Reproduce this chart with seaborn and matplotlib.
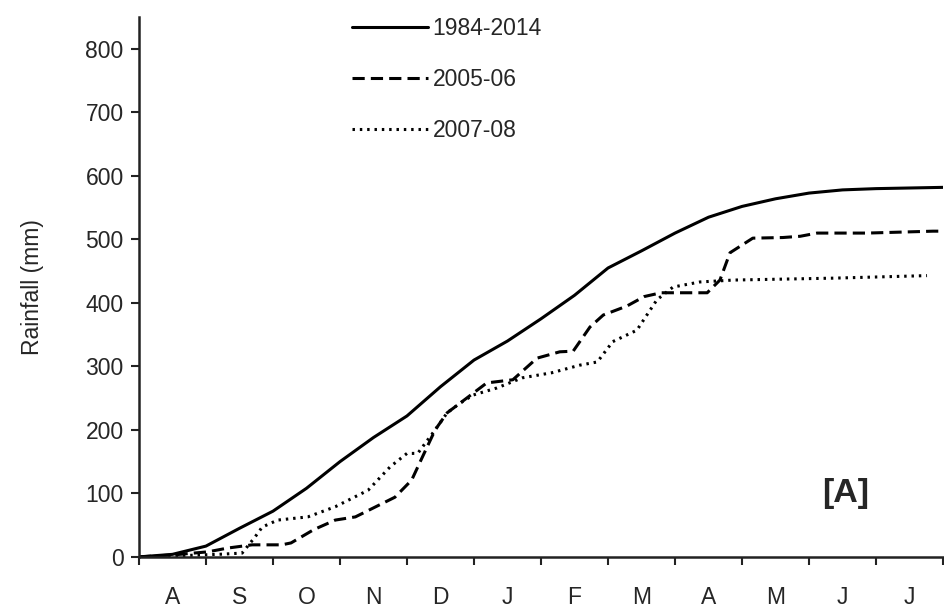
import numpy as np
import pandas as pd
import matplotlib
matplotlib.use("Agg")
import matplotlib.pyplot as plt
import seaborn as sns

# months since 1 August (0 = start of Aug, 12 = end of July)
month_labels = ['A', 'S', 'O', 'N', 'D', 'J', 'F', 'M', 'A', 'M', 'J', 'J']

# 1984-2014 mean cumulative rainfall (mm)
mean_x = [0.0, 0.5, 1.0, 1.5, 2.0, 2.5, 3.0, 3.5, 4.0, 4.5, 5.0, 5.5,
          6.0, 6.5, 7.0, 7.5, 8.0, 8.5, 9.0, 9.5, 10.0, 10.5, 11.0, 11.5, 12.0]
mean_y = [0, 4, 17, 45, 72, 108, 150, 188, 222, 268, 310, 340,
          375, 412, 455, 482, 510, 535, 552, 564, 573, 578, 580, 581, 582]

# 2005-06 season
s0506_x = [0.0, 0.5, 1.03, 1.33, 1.69, 2.13, 2.27, 2.61, 2.93, 3.23, 3.82, 4.07,
           4.22, 4.42, 4.6, 4.79, 4.99, 5.19, 5.58, 5.94, 6.28, 6.48, 6.73, 6.93,
           7.28, 7.54, 7.79, 8.48, 8.67, 8.82, 9.16, 9.61, 9.87, 10.12, 10.87, 11.85, 12.0]
s0506_y = [0, 3, 8, 14, 19, 19, 22, 43, 58, 63, 94, 121,
           155, 200, 227, 242, 258, 274, 279, 313, 323, 324, 362, 381,
           395, 410, 416, 416, 436, 479, 502, 503, 505, 510, 510, 513, 513]

# 2007-08 season
s0708_x = [0.0, 0.64, 1.18, 1.54, 1.73, 1.84, 2.07, 2.52, 2.93, 3.42, 3.75, 4.0,
           4.16, 4.42, 4.6, 4.79, 4.99, 5.34, 5.72, 6.16, 6.58, 6.84, 7.07, 7.43,
           7.73, 7.97, 8.37, 8.87, 10.36, 11.76]
s0708_y = [0, 2, 4, 6, 31, 47, 58, 63, 79, 105, 142, 163,
           163, 200, 227, 242, 255, 266, 282, 290, 302, 307, 339, 357,
           405, 425, 433, 436, 439, 443]

series = [
    ('1984-2014', mean_x, mean_y, '-'),
    ('2005-06', s0506_x, s0506_y, (0, (4, 2))),
    ('2007-08', s0708_x, s0708_y, (0, (0.8, 1.6))),
]

sns.set_style("ticks")
plt.rcParams['font.family'] = ['Liberation Sans', 'DejaVu Sans']

fig, ax = plt.subplots(figsize=(9.45, 6.14), dpi=100)
fig.subplots_adjust(left=0.147, right=0.998, bottom=0.093, top=0.972)

for name, xs, ys, ls in series:
    df = pd.DataFrame({'month': xs, 'rain': ys})
    sns.lineplot(data=df, x='month', y='rain', ax=ax, color='black',
                 linewidth=2.2, linestyle=ls, label=name, errorbar=None)

ax.set_xlim(0, 12)
ax.set_ylim(0, 850)
ax.set_yticks(np.arange(0, 801, 100))
ax.set_xticks(np.arange(0, 13, 1))
ax.set_xticklabels([])
ax.set_xticks(np.arange(0.5, 12, 1), minor=True)
ax.set_xticklabels(month_labels, minor=True)
ax.tick_params(axis='x', which='major', direction='out', length=6, width=1.5, color='#222222')
ax.tick_params(axis='x', which='minor', length=0, pad=21, labelsize=16.5)
ax.tick_params(axis='y', direction='out', length=6, width=1.5, color='#222222', labelsize=16.5, pad=5)

sns.despine(ax=ax)
for side in ['left', 'bottom']:
    ax.spines[side].set_linewidth(1.8)
    ax.spines[side].set_color('#222222')

ax.set_xlabel('')
ax.set_ylabel('Rainfall (mm)', fontsize=16.5, labelpad=30)

ax.text(10.55, 100, '[A]', fontsize=24.5, fontweight='bold', ha='center', va='center')

handles, labels = ax.get_legend_handles_labels()
ax.get_legend().remove()
fig.legend(handles, labels, loc='upper left', bbox_to_anchor=(0.373, 0.972),
           frameon=False, fontsize=16.5, handlelength=3.3, handletextpad=0.2,
           labelspacing=1.22, borderpad=0, borderaxespad=0)

fig.savefig('out.png', dpi=100, facecolor='white')
